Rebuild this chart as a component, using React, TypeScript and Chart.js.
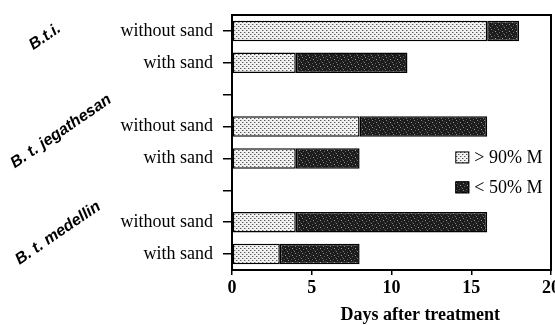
import { useEffect, useRef } from 'react';
import { Chart, registerables } from 'chart.js';

Chart.register(...registerables);

// ---------- data ----------
const categories = ['without sand', 'with sand', '', 'without sand', 'with sand', '', 'without sand', 'with sand'];
const groupNames = ['B.t.i.', 'B. t. jegathesan', 'B. t. medellin'];
const groupFirstIndex = [0, 3, 6];
const seriesLabels = ['> 90% M', '< 50% M'];
const over90Days = [16, 4, null, 8, 4, null, 4, 3];
const under50Days = [2, 7, null, 8, 4, null, 12, 5];
const xMin = 0;
const xMax = 20;
const xStep = 5;
const xTitle = 'Days after treatment';

const SERIF = '"Liberation Serif", "Times New Roman", serif';
const SANS = '"Liberation Sans", Arial, sans-serif';

function makeLightPattern(ctx: CanvasRenderingContext2D) {
  const c = document.createElement('canvas');
  c.width = 4;
  c.height = 4;
  const g = c.getContext('2d')!;
  g.fillStyle = '#f2f2f2';
  g.fillRect(0, 0, 4, 4);
  g.fillStyle = '#555';
  g.fillRect(0, 0, 1, 1);
  g.fillRect(2, 2, 1, 1);
  g.fillStyle = '#b5b5b5';
  g.fillRect(1, 0, 1, 1);
  g.fillRect(3, 2, 1, 1);
  return ctx.createPattern(c, 'repeat')!;
}

function makeDarkPattern(ctx: CanvasRenderingContext2D) {
  const c = document.createElement('canvas');
  c.width = 7;
  c.height = 7;
  const g = c.getContext('2d')!;
  g.fillStyle = '#1c1c1c';
  g.fillRect(0, 0, 7, 7);
  const light: [number, number, string][] = [
    [1, 1, '#8a8a8a'], [4, 0, '#5a5a5a'], [5, 3, '#a0a0a0'], [2, 4, '#666'],
    [0, 6, '#7a7a7a'], [6, 5, '#4a4a4a'], [3, 2, '#3c3c3c'],
  ];
  light.forEach(([x, y, col]) => {
    g.fillStyle = col;
    g.fillRect(x, y, 1, 1);
  });
  return ctx.createPattern(c, 'repeat')!;
}

export default function App() {
  const ref = useRef<HTMLCanvasElement | null>(null);

  useEffect(() => {
    const canvas = ref.current!;
    const ctx = canvas.getContext('2d')!;
    const lightPat = makeLightPattern(ctx);
    const darkPat = makeDarkPattern(ctx);
    const fills = [lightPat, darkPat];

    const framePlugin = {
      id: 'frame',
      afterDraw(chart: any) {
        const { ctx: c, chartArea: a, scales } = chart;
        c.save();
        c.strokeStyle = '#000';
        c.lineWidth = 2;
        c.strokeRect(a.left, a.top, a.right - a.left, a.bottom - a.top);

        // group labels (rotated)
        const y = scales.y;
        const cx = [45, 61, 58];
        const dy = [6, 5, 11];
        c.fillStyle = '#000';
        c.font = `italic bold 16px ${SANS}`;
        c.textAlign = 'center';
        c.textBaseline = 'middle';
        groupNames.forEach((name, i) => {
          const py = y.getPixelForValue(groupFirstIndex[i]) + dy[i];
          c.save();
          c.translate(cx[i], py);
          c.rotate(-0.6);
          c.fillText(name, 0, 0);
          c.restore();
        });

        // legend inside plot
        const lx = a.left + (a.right - a.left) * 0.7;
        const rows = [y.getPixelForValue(4) - 1, y.getPixelForValue(5) - 3];
        c.font = `18px ${SERIF}`;
        c.textAlign = 'left';
        seriesLabels.forEach((lab, i) => {
          const ry = rows[i];
          c.fillStyle = fills[i];
          c.fillRect(lx, ry - 6, 14, 12);
          c.strokeStyle = '#000';
          c.lineWidth = 1;
          c.strokeRect(lx + 0.5, ry - 5.5, 13, 11);
          c.fillStyle = '#000';
          c.fillText(lab, lx + 19, ry + 1);
        });

        // x axis title
        c.font = `bold 18px ${SERIF}`;
        c.textAlign = 'center';
        c.textBaseline = 'middle';
        c.fillText(xTitle, a.left + (a.right - a.left) * 0.59, chart.height - 10);
        c.restore();
      },
    };

    const chart = new Chart(canvas, {
      type: 'bar',
      data: {
        labels: categories,
        datasets: [
          {
            label: seriesLabels[0],
            data: over90Days as any,
            backgroundColor: lightPat as any,
            borderColor: '#000',
            borderWidth: 1.5,
            borderSkipped: false,
            barPercentage: 0.64,
            categoryPercentage: 1,
          },
          {
            label: seriesLabels[1],
            data: under50Days as any,
            backgroundColor: darkPat as any,
            borderColor: '#000',
            borderWidth: 1.5,
            borderSkipped: false,
            barPercentage: 0.64,
            categoryPercentage: 1,
          },
        ],
      },
      options: {
        indexAxis: 'y',
        responsive: false,
        animation: false,
        layout: { padding: { top: 15, right: 4, left: 0, bottom: 0 } },
        plugins: { legend: { display: false }, tooltip: { enabled: false } },
        scales: {
          x: {
            stacked: true,
            min: xMin,
            max: xMax,
            ticks: {
              stepSize: xStep,
              color: '#000',
              padding: 3,
              font: { family: SERIF, size: 18, weight: 'bold' },
            },
            grid: {
              drawOnChartArea: false,
              drawTicks: true,
              tickLength: 5,
              color: '#000',
              lineWidth: 1.5,
            },
            border: { display: true, color: '#000', width: 2 },
            afterFit(scale: any) {
              scale.height = 55;
              scale.paddingRight = 0;
              scale.paddingLeft = 0;
            },
          },
          y: {
            stacked: true,
            ticks: {
              color: '#000',
              padding: 10,
              autoSkip: false,
              font: { family: SERIF, size: 18 },
            },
            grid: {
              offset: false,
              drawOnChartArea: false,
              drawTicks: true,
              tickLength: 9,
              color: '#000',
              lineWidth: 1.5,
            },
            border: { display: true, color: '#000', width: 2 },
            afterFit(scale: any) {
              scale.width = 232;
              scale.paddingTop = 0;
              scale.paddingBottom = 0;
            },
          },
        },
      },
      plugins: [framePlugin],
    });

    return () => chart.destroy();
  }, []);

  return (
    <div style={{ position: 'absolute', left: 0, top: 0, width: 555, height: 325, background: '#fff' }}>
      <canvas ref={ref} width={555} height={325} />
    </div>
  );
}
